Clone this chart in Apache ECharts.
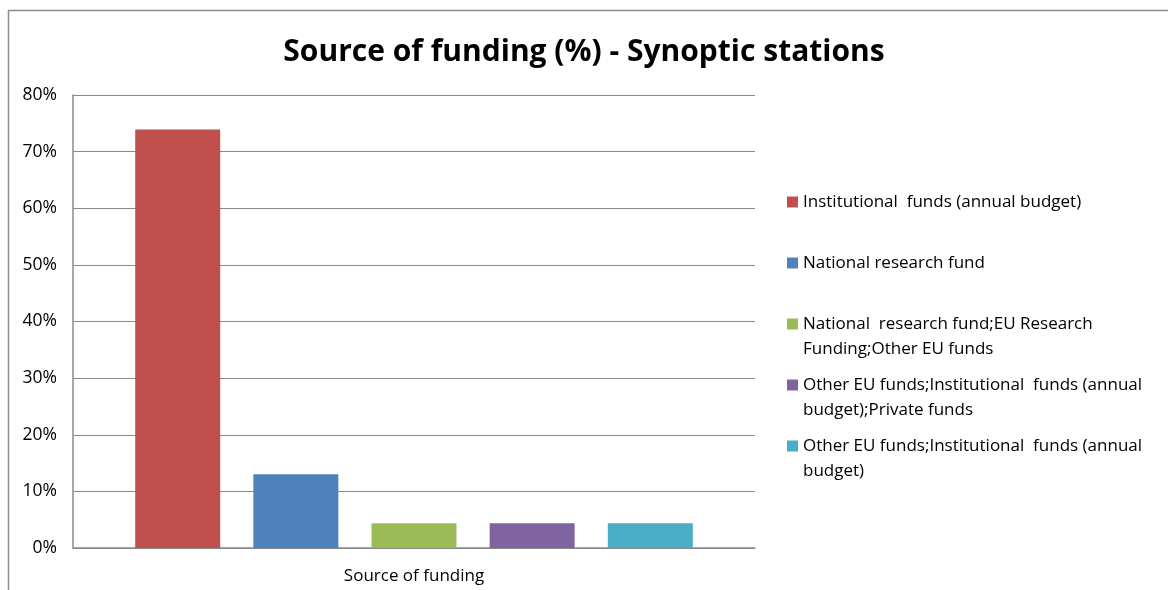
<!DOCTYPE html>
<html><head><meta charset="utf-8">
<script src="https://cdn.jsdelivr.net/npm/echarts@6/dist/echarts.min.js"></script>
<style>html,body{margin:0;padding:0;background:#fff}#c{width:1168px;height:590px}</style>
</head><body><div id="c"></div>
<script>
const categories = ['Source of funding'];
const seriesNames = [
  'Institutional funds (annual budget)',
  'National research fund',
  'National research fund;EU Research Funding;Other EU funds',
  'Other EU funds;Institutional funds (annual budget);Private funds',
  'Other EU funds;Institutional funds (annual budget)'
];
const legendLabels = [
  'Institutional  funds (annual budget)',
  'National research fund',
  'National  research fund;EU Research\nFunding;Other EU funds',
  'Other EU funds;Institutional  funds (annual\nbudget);Private funds',
  'Other EU funds;Institutional  funds (annual\nbudget)'
];
const values = [73.91, 13.04, 4.35, 4.35, 4.35];
const colors = ['#C0504D', '#4F81BD', '#9BBB59', '#8064A2', '#4BACC6'];
const yTicks = [0, 10, 20, 30, 40, 50, 60, 70, 80];

const FONT = 'Open Sans';
const legendIconY = [202, 263, 324, 385, 446];

const chart = echarts.init(document.getElementById('c'), null, {renderer: 'canvas'});
const lh = 25;
const legends = seriesNames.map((n, i) => {
  const lines = legendLabels[i].split('\n').length;
  // pad with blank lines on top so the first text line is centred on the icon
  const text = '\n'.repeat(lines - 1) + legendLabels[i];
  const boxH = (2 * lines - 1) * lh;
  return {
    orient: 'vertical',
    left: 787,
    top: legendIconY[i] - boxH / 2,
    padding: 0,
    itemWidth: 11,
    itemHeight: 11,
    itemGap: 0,
    icon: 'rect',
    data: [n],
    selectedMode: false,
    formatter: () => text,
    textStyle: {fontFamily: FONT, fontSize: 17, color: '#000', lineHeight: lh}
  };
});

chart.setOption({
  animation: false,
  backgroundColor: '#fff',
  title: {
    text: 'Source of funding (%) - Synoptic stations',
    left: 'center', top: 32,
    textStyle: {fontFamily: FONT, fontSize: 30, fontWeight: 'bold', color: '#000'}
  },
  graphic: [{
    type: 'rect', silent: true,
    shape: {x: 8.5, y: 10.5, width: 1300, height: 800},
    style: {fill: 'none', stroke: '#8c8c8c', lineWidth: 1.5}
  }],
  legend: legends,
  grid: {left: 73, top: 95, right: 413, bottom: 42, containLabel: false},
  xAxis: {
    type: 'category', data: categories,
    axisLine: {show: true, lineStyle: {color: '#8a8a8a', width: 1.5}},
    axisTick: {show: false},
    axisLabel: {fontFamily: FONT, fontSize: 17, color: '#000', margin: 20}
  },
  yAxis: {
    type: 'value', min: 0, max: 80, interval: 10,
    axisLine: {show: true, lineStyle: {color: '#8a8a8a', width: 1.5}},
    axisTick: {show: false},
    axisLabel: {fontFamily: FONT, fontSize: 17.5, color: '#000', margin: 16, formatter: '{value}%'},
    splitLine: {show: true, lineStyle: {color: '#8a8a8a', width: 1.2}}
  },
  series: seriesNames.map((n, i) => ({
    name: n, type: 'bar', data: [values[i]],
    barWidth: 85, barGap: '39%',
    itemStyle: {color: colors[i]}
  }))
});
</script></body></html>
